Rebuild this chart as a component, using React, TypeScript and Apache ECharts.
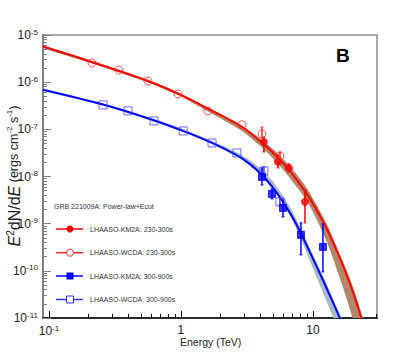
import React, { useEffect, useRef } from "react";
import * as echarts from "echarts";

const FONT = "'Liberation Sans', Arial, Helvetica, sans-serif";

// Energies in TeV, E^2 dN/dE in erg cm^-2 s^-1
const redCurveE = [0.09, 0.212, 0.582, 1.0, 1.6, 2.9, 4.18, 5.34, 6.58, 8.7, 10.35, 12.8, 16.0, 19.1, 21.2, 23.3, 25.2];
const redCurveF = [5.7e-6, 2.67e-6, 1.02e-6, 5.37e-7, 2.75e-7, 1.12e-7, 5.0e-8, 2.63e-8, 1.38e-8, 4.9e-9, 2.26e-9, 7.5e-10, 1.85e-10, 5.3e-11, 2.28e-11, 9.8e-12, 4.6e-12];
const redBandHi = [5.98e-6, 2.81e-6, 1.07e-6, 5.64e-7, 2.89e-7, 1.21e-7, 5.8e-8, 3.2e-8, 1.76e-8, 6.56e-9, 2.89e-9, 9.6e-10, 2.24e-10, 6.8e-11, 2.91e-11, 1.25e-11, 5.9e-12];
const redBandLo = [5.3e-6, 2.48e-6, 9.5e-7, 4.88e-7, 2.38e-7, 9.2e-8, 3.93e-8, 1.96e-8, 9.8e-9, 3.48e-9, 1.46e-9, 4.0e-10, 6.95e-11, 1.5e-11, 5.3e-12, 2.05e-12, 9.7e-13];

const blueCurveE = [0.09, 0.257, 0.582, 1.036, 1.72, 2.7, 3.33, 4.11, 4.89, 5.93, 6.93, 7.97, 9.49, 11.7, 14.2, 16.0, 18.1];
const blueCurveF = [6.93e-7, 3.37e-7, 1.66e-7, 9.25e-8, 5.15e-8, 2.73e-8, 1.83e-8, 1.08e-8, 6.18e-9, 2.92e-9, 1.43e-9, 6.8e-10, 2.48e-10, 7.05e-11, 2.12e-11, 9.9e-12, 4.3e-12];
const blueBandHi = [7.28e-7, 3.54e-7, 1.79e-7, 1.02e-7, 5.68e-8, 3.16e-8, 2.22e-8, 1.38e-8, 8.28e-9, 3.91e-9, 1.91e-9, 8.67e-10, 3.01e-10, 8.57e-11, 2.58e-11, 1.2e-11, 5.3e-12];
const blueBandLo = [6.61e-7, 3.21e-7, 1.58e-7, 8.81e-8, 4.91e-8, 2.6e-8, 1.74e-8, 1.0e-8, 5.61e-9, 2.65e-9, 1.23e-9, 5.32e-10, 1.6e-10, 3.93e-11, 1.02e-11, 4.3e-12, 1.8e-12];

// LHAASO-KM2A 230-300s (filled red circles)
const km2aRedE = [4.25, 5.43, 6.58, 8.7];
const km2aRedF = [5.41e-8, 2.04e-8, 1.52e-8, 2.9e-9];
const km2aRedHi = [6.9e-8, 2.87e-8, 1.85e-8, 5.2e-9];
const km2aRedLo = [3.32e-8, 1.52e-8, 1.25e-8, 1.04e-9];

// LHAASO-WCDA 230-300s (open red circles)
const wcdaRedE = [0.212, 0.339, 0.562, 0.949, 1.6, 2.9, 4.11, 5.62];
const wcdaRedF = [2.55e-6, 1.81e-6, 1.06e-6, 5.62e-7, 2.46e-7, 1.25e-7, 8.0e-8, 2.73e-8];
// visible error bars (last two WCDA points)
const wcdaRedErrE = [4.11, 5.62];
const wcdaRedErrHi = [1.12e-7, 3.32e-8];
const wcdaRedErrLo = [6.6e-8, 2.25e-8];

// LHAASO-KM2A 300-900s (filled blue squares)
const km2aBlueE = [4.11, 4.89, 5.93, 8.11, 11.9];
const km2aBlueF = [9.8e-9, 4.28e-9, 2.16e-9, 5.8e-10, 3.22e-10];
const km2aBlueHi = [1.52e-8, 5.45e-9, 3.19e-9, 1.04e-9, 9.9e-10];
const km2aBlueLo = [6.6e-9, 3.35e-9, 1.39e-9, 2.18e-10, 9.5e-11];

// LHAASO-WCDA 300-900s (open blue squares)
const wcdaBlueE = [0.257, 0.397, 0.624, 1.04, 1.72, 2.65, 4.25, 5.62];
const wcdaBlueF = [3.29e-7, 2.46e-7, 1.51e-7, 9.25e-8, 5.15e-8, 3.16e-8, 1.31e-8, 2.9e-9];
const wcdaBlueErrE = [4.25, 5.62];
const wcdaBlueErrHi = [1.6e-8, 3.6e-9];
const wcdaBlueErrLo = [1.1e-8, 2.4e-9];

const xMajorTicks = [-1, 0, 1];
const yMajorTicks = [-11, -10, -9, -8, -7, -6, -5];
const legendLabels = [
  "LHAASO-KM2A: 230-300s",
  "LHAASO-WCDA: 230-300s",
  "LHAASO-KM2A: 300-900s",
  "LHAASO-WCDA: 300-900s",
];
const legendTitle = "GRB 221009A: Power-law+Ecut";

const L = Math.log10;

function minorTicks(lo: number, hi: number) {
  const out: number[] = [];
  for (let d = Math.floor(lo); d <= Math.ceil(hi); d++) {
    for (let k = 2; k <= 9; k++) {
      const v = d + L(k);
      if (v > lo && v < hi) out.push(v);
    }
  }
  return out;
}

const X_MIN = -1.045;
const X_MAX = 1.485;
const Y_MIN = -11;
const Y_MAX = -5;

export default function App() {
  const ref = useRef<HTMLDivElement>(null);
  useEffect(() => {
    if (!ref.current) return;
    const chart = echarts.init(ref.current, undefined, { renderer: "svg" });

    const pts = (E: number[], F: number[]) => E.map((e, i) => [L(e), L(F[i])]);
    const errs = (E: number[], lo: number[], hi: number[]) => E.map((e, i) => [L(e), L(lo[i]), L(hi[i])]);

    const gridBox = { left: 43, top: 35, right: 42, bottom: 36, outerBoundsMode: "none" };

    // band drawn as one polygon (upper edge then lower edge), clipped to the plot
    const band = (E: number[], hi: number[], lo: number[], color: string) => ({
      type: "custom",
      silent: true,
      clip: true,
      z: 1,
      encode: { x: 0, y: [1, 2] },
      data: errs(E, lo, hi),
      renderItem: (params: any, api: any) => {
        if (params.dataIndex !== 0) return null;
        const upper: number[][] = [];
        const lower: number[][] = [];
        for (let i = 0; i < E.length; i++) {
          const x = L(E[i]);
          upper.push(api.coord([x, L(hi[i])]));
          lower.push(api.coord([x, L(lo[i])]));
        }
        const cs = params.coordSys;
        return {
          type: "group",
          clipPath: { type: "rect", shape: { x: cs.x, y: cs.y, width: cs.width, height: cs.height } },
          children: [
            {
              type: "polygon",
              shape: { points: upper.concat(lower.reverse()), smooth: 0.25 },
              style: { fill: color, stroke: "none" },
            },
          ],
        };
      },
    });

    const curve = (E: number[], F: number[], color: string) => ({
      type: "line",
      data: pts(E, F),
      smooth: 0.3,
      symbol: "none",
      lineStyle: { color, width: 2 },
      silent: true,
      z: 2,
    });

    const errSeries = (data: number[][], color: string) => ({
      type: "custom",
      silent: true,
      z: 3,
      encode: { x: 0, y: [1, 2] },
      data,
      renderItem: (_p: any, api: any) => {
        const x = api.value(0);
        const a = api.coord([x, api.value(2)]);
        const b = api.coord([x, api.value(1)]);
        return {
          type: "group",
          children: [
            { type: "line", shape: { x1: a[0], y1: a[1], x2: b[0], y2: b[1] }, style: { stroke: color, lineWidth: 1.5 } },
            { type: "line", shape: { x1: a[0] - 1.5, y1: a[1], x2: a[0] + 1.5, y2: a[1] }, style: { stroke: color, lineWidth: 1 } },
            { type: "line", shape: { x1: b[0] - 1.5, y1: b[1], x2: b[0] + 1.5, y2: b[1] }, style: { stroke: color, lineWidth: 1 } },
          ],
        };
      },
    });

    const scatter = (E: number[], F: number[], symbol: string, size: number, fill: string, stroke: string) => ({
      type: "scatter",
      data: pts(E, F),
      symbol,
      symbolSize: size,
      itemStyle: { color: fill, borderColor: stroke, borderWidth: 1 },
      silent: true,
      z: 4,
    });

    const tickLabelRich = {
      b: { fontSize: 12, fontFamily: FONT, color: "#222" },
      s: { fontSize: 8, fontFamily: FONT, color: "#222", verticalAlign: "top", padding: [0, 0, 6, 0] },
    };

    const legendY = [229, 252.7, 276, 299.5];
    const legendColors = ["#ff0000", "#ff2a2a", "#0000ff", "#3030ff"];
    const legendGraphics: any[] = [
      {
        type: "text",
        x: 54,
        y: 206,
        style: { text: legendTitle, fontSize: 7, fontFamily: FONT, fill: "#333", verticalAlign: "middle" },
      },
    ];
    legendLabels.forEach((lab, i) => {
      const y = legendY[i];
      const c = legendColors[i];
      legendGraphics.push({
        type: "line",
        shape: { x1: 56, y1: y, x2: 83, y2: y },
        style: { stroke: c, lineWidth: 1.5 },
      });
      if (i === 0) legendGraphics.push({ type: "circle", shape: { cx: 70, cy: y, r: 3.5 }, style: { fill: c } });
      if (i === 1)
        legendGraphics.push({ type: "circle", shape: { cx: 70, cy: y, r: 3.5 }, style: { fill: "#fff", stroke: c, lineWidth: 1 } });
      if (i === 2) legendGraphics.push({ type: "rect", shape: { x: 66.5, y: y - 3.5, width: 7, height: 7 }, style: { fill: c } });
      if (i === 3)
        legendGraphics.push({
          type: "rect",
          shape: { x: 66.5, y: y - 3.5, width: 7, height: 7 },
          style: { fill: "#fff", stroke: c, lineWidth: 1 },
        });
      legendGraphics.push({
        type: "text",
        x: 90,
        y,
        style: { text: lab, fontSize: 7, fontFamily: FONT, fill: "#333", verticalAlign: "middle" },
      });
    });

    const option: any = {
      animation: false,
      backgroundColor: "#fff",
      grid: [
        { ...gridBox, show: true, borderColor: "#8a8a8a", borderWidth: 1.5, backgroundColor: "transparent" },
        { ...gridBox, show: false },
      ],
      xAxis: [
        {
          type: "value",
          gridIndex: 0,
          min: X_MIN,
          max: X_MAX,
          axisLine: { show: true, onZero: false, lineStyle: { color: "#000", width: 1.5 } },
          axisTick: { show: true, inside: true, length: 7, customValues: xMajorTicks, lineStyle: { color: "#000", width: 1 } },
          axisLabel: {
            customValues: xMajorTicks,
            margin: 6,
            formatter: (v: number) => {
              const n = Math.round(v);
              if (n === 0) return "{b|1}";
              if (n === 1) return "{b|10}";
              return `{b|10}{s|${n}}`;
            },
            rich: tickLabelRich,
          },
          splitLine: { show: false },
        },
        {
          type: "value",
          gridIndex: 1,
          min: X_MIN,
          max: X_MAX,
          axisLine: { show: false, onZero: false },
          axisTick: { show: true, inside: true, length: 4, customValues: minorTicks(X_MIN, X_MAX), lineStyle: { color: "#000", width: 1 } },
          axisLabel: { show: false },
          splitLine: { show: false },
        },
      ],
      yAxis: [
        {
          type: "value",
          gridIndex: 0,
          min: Y_MIN,
          max: Y_MAX,
          axisLine: { show: true, onZero: false, lineStyle: { color: "#808080", width: 2 } },
          axisTick: { show: true, inside: true, length: 8, customValues: yMajorTicks, lineStyle: { color: "#808080", width: 1 } },
          axisLabel: {
            customValues: yMajorTicks,
            margin: 5,
            formatter: (v: number) => `{b|10}{s|${Math.round(v)}}`,
            rich: tickLabelRich,
          },
          splitLine: { show: false },
        },
        {
          type: "value",
          gridIndex: 1,
          min: Y_MIN,
          max: Y_MAX,
          axisLine: { show: false, onZero: false },
          axisTick: { show: true, inside: true, length: 4, customValues: minorTicks(Y_MIN, Y_MAX), lineStyle: { color: "#808080", width: 1 } },
          axisLabel: { show: false },
          splitLine: { show: false },
        },
      ],
      series: [
        band(redCurveE, redBandHi, redBandLo, "#b2876a"),
        band(blueCurveE, blueBandHi, blueBandLo, "#a9bac7"),
        curve(redCurveE, redCurveF, "#ff0000"),
        curve(blueCurveE, blueCurveF, "#0000ff"),
        errSeries(errs(km2aRedE, km2aRedLo, km2aRedHi), "#ff0000"),
        errSeries(errs(wcdaRedErrE, wcdaRedErrLo, wcdaRedErrHi), "#ff3030"),
        errSeries(errs(km2aBlueE, km2aBlueLo, km2aBlueHi), "#0000ff"),
        errSeries(errs(wcdaBlueErrE, wcdaBlueErrLo, wcdaBlueErrHi), "#3535ff"),
        scatter(wcdaRedE, wcdaRedF, "circle", 8, "rgba(255,255,255,0)", "#ff2a2a"),
        scatter(wcdaBlueE, wcdaBlueF, "rect", 8, "rgba(255,255,255,0)", "#4545ff"),
        scatter(km2aRedE, km2aRedF, "circle", 7, "#ff0000", "#ff0000"),
        scatter(km2aBlueE, km2aBlueF, "rect", 7, "#0000ff", "#0000ff"),
      ],
      graphic: [
        ...legendGraphics,
        {
          type: "text",
          x: 336,
          y: 55,
          style: { text: "B", fontSize: 19, fontWeight: "bold", fontFamily: FONT, fill: "#000", verticalAlign: "middle" },
        },
        {
          type: "text",
          x: 180,
          y: 342,
          style: { text: "Energy (TeV)", fontSize: 10.5, fontFamily: FONT, fill: "#222", verticalAlign: "middle" },
        },
        {
          type: "text",
          x: 14,
          y: 176,
          rotation: Math.PI / 2,
          style: {
            text: "{e|E}{s|2}{m|dN/d}{e|E}{u| (ergs cm}{us|-2}{u| s}{us|-1}{u|)}",
            align: "center",
            verticalAlign: "middle",
            fill: "#222",
            rich: {
              e: { fontSize: 16, fontStyle: "italic", fontFamily: FONT, fill: "#222" },
              m: { fontSize: 16, fontFamily: FONT, fill: "#222" },
              s: { fontSize: 10, fontFamily: FONT, fill: "#222", verticalAlign: "top", padding: [0, 0, 7, 0] },
              u: { fontSize: 12.5, fontFamily: FONT, fill: "#222" },
              us: { fontSize: 8, fontFamily: FONT, fill: "#222", verticalAlign: "top", padding: [0, 0, 6, 0] },
            },
          },
        },
      ],
    };

    chart.setOption(option);
    return () => chart.dispose();
  }, []);

  return <div ref={ref} style={{ position: "absolute", left: 0, top: 0, width: 419, height: 354 }} />;
}
